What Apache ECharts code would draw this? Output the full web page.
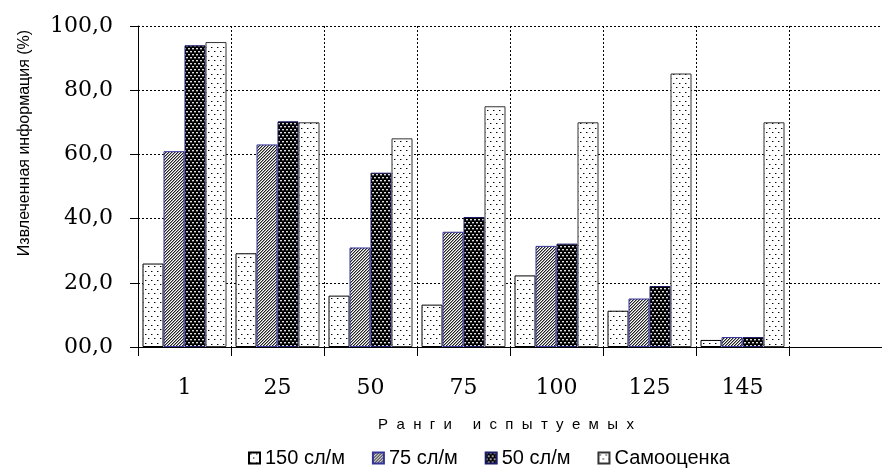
<!DOCTYPE html>
<html>
<head>
<meta charset="utf-8">
<script src="https://cdn.jsdelivr.net/npm/echarts@6/dist/echarts.min.js"></script>
<style>
html,body{margin:0;padding:0;background:#fff;}
#chart{width:882px;height:470px;}
</style>
</head>
<body>
<div id="chart"></div>
<script>
const categories = ['1', '25', '50', '75', '100', '125', '145', ''];
const seriesNames = ['150 сл/м', '75 сл/м', '50 сл/м', 'Самооценка'];
const s150 = [26.0, 29.2, 16.0, 13.2, 22.3, 11.3, 2.2, null];
const s75 = [61.0, 63.1, 31.0, 35.9, 31.5, 15.1, 3.1, null];
const s50 = [94.0, 70.3, 54.3, 40.5, 32.2, 19.0, 3.1, null];
const sSelf = [95.0, 70.0, 65.0, 75.0, 70.0, 85.2, 70.0, null];
const yAxisTitle = 'Извлеченная информация (%)';
const xAxisTitle = 'Р  а  н  г  и     и  с  п  ы  т  у  е  м  ы  х';

function makeTile(w, h, bg, pixels) {
  const c = document.createElement('canvas');
  c.width = w; c.height = h;
  const ctx = c.getContext('2d');
  ctx.fillStyle = bg; ctx.fillRect(0, 0, w, h);
  pixels.forEach(p => { ctx.fillStyle = p[2]; ctx.fillRect(p[0], p[1], 1, 1); });
  return c;
}
const dotTile = makeTile(6, 9, '#fff', [[1,1,'#000'],[2,1,'#999'],[4,5,'#000'],[5,5,'#999']]);
const dotTile2 = makeTile(6, 9, '#fff', [[1,2,'#000'],[2,2,'#999'],[4,6,'#000'],[5,6,'#999']]);
const hatchTile = makeTile(3, 3, '#fff', [[0,2,'#222'],[1,1,'#222'],[2,0,'#222'],[1,2,'#999'],[2,1,'#999'],[0,0,'#999']]);
const darkTile = makeTile(4, 6, '#000', [[0,0,'#ddd'],[1,0,'#ddd'],[0,1,'#555'],[1,1,'#555'],[2,3,'#ddd'],[3,3,'#ddd'],[2,4,'#555'],[3,4,'#555']]);

const pat = t => ({ image: t, repeat: 'repeat' });
const styles = [
  { color: pat(dotTile), borderColor: '#000', borderWidth: 1 },
  { color: pat(hatchTile), borderColor: '#33339a', borderWidth: 1 },
  { color: pat(darkTile), borderColor: '#1a1a66', borderWidth: 1 },
  { color: pat(dotTile2), borderColor: '#333', borderWidth: 1 }
];
const datas = [s150, s75, s50, sSelf];

const chart = echarts.init(document.getElementById('chart'), null, { renderer: 'canvas' });
chart.setOption({
  animation: false,
  backgroundColor: '#fff',
  grid: { left: 138, top: 26, width: 760, height: 321, containLabel: false },
  legend: {
    data: seriesNames,
    left: 243, top: 443,
    itemWidth: 11, itemHeight: 11, itemGap: 27,
    icon: 'rect',
    textStyle: { fontFamily: 'Liberation Sans', fontSize: 20, color: '#000' }
  },
  xAxis: {
    type: 'category',
    data: categories,
    boundaryGap: true,
    axisLine: { lineStyle: { color: '#000', width: 1 } },
    axisTick: { show: true, length: 9, alignWithLabel: false, interval: 0, lineStyle: { color: '#000' } },
    axisLabel: { interval: 0, margin: 30, fontFamily: 'DejaVu Serif', fontSize: 22, color: '#000' },
    splitLine: { show: true, interval: 0, lineStyle: { color: '#000', type: [2, 2], width: 1 } }
  },
  yAxis: {
    type: 'value',
    min: 0, max: 100, interval: 20,
    axisLine: { show: true, lineStyle: { color: '#000', width: 1 } },
    axisTick: { show: true, length: 8, lineStyle: { color: '#000' } },
    axisLabel: {
      margin: 25, fontFamily: 'DejaVu Serif', fontSize: 22, color: '#000',
      formatter: v => v === 0 ? '00,0' : v.toFixed(1).replace('.', ',')
    },
    splitLine: { show: true, lineStyle: { color: '#000', type: [2, 2], width: 1 } }
  },
  graphic: [
    { type: 'text', x: 25, y: 143, rotation: Math.PI / 2,
      style: { text: yAxisTitle, fontFamily: 'Liberation Sans', fontSize: 16, fill: '#000', align: 'center', verticalAlign: 'middle' } },
    { type: 'text', x: 506, y: 425,
      style: { text: xAxisTitle, fontFamily: 'Liberation Sans', fontSize: 15, fill: '#000', align: 'center', verticalAlign: 'middle' } }
  ],
  series: datas.map((d, i) => ({
    name: seriesNames[i],
    type: 'bar',
    data: d,
    barWidth: 21,
    barGap: '0%',
    itemStyle: styles[i],
    emphasis: { disabled: true }
  }))
});
</script>
</body>
</html>
